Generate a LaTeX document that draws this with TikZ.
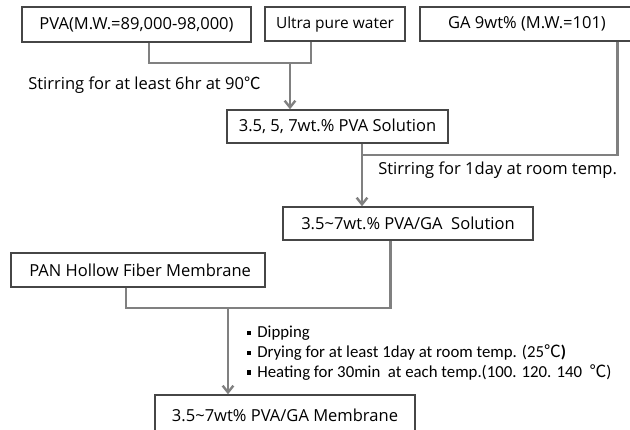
\documentclass[tikz,border=0pt]{standalone}
\usepackage{fontspec}
\setmainfont{Open Sans}
\newfontfamily\cjk{Noto Sans CJK KR}
\newfontfamily\bulletfont{Carlito}
\usepackage{xcolor}
\usepackage{tikz}
\usetikzlibrary{arrows.meta,calc,positioning}

\definecolor{boxgray}{RGB}{70,70,70}
\definecolor{linegray}{RGB}{128,128,128}
\newcommand{\degc}{{\cjk ℃}}
\newcommand{\sqbul}{\raisebox{0.3ex}{\rule{0.25em}{0.25em}}\hspace{0.35em}}

\begin{document}
\begin{tikzpicture}[x=0.75pt,y=-0.75pt,>={Straight Barb[length=5pt,width=8pt]},
    step box/.style={rectangle,draw=boxgray,line width=1.1pt,inner sep=0pt,font=\fontsize{12.4}{14}\selectfont},
    flow/.style={draw=linegray,line width=1.8pt},
    note/.style={anchor=west,inner sep=0pt,font=\fontsize{12.4}{14}\selectfont}]
    \useasboundingbox (0,0) rectangle (630,429);
    \clip (0,0) rectangle (630,429);

    \node[step box,minimum width=229*0.75pt,minimum height=35*0.75pt] (pva) at (136.5,24.5) {PVA(M.W.=89,000-98,000)};
    \node[step box,minimum width=140*0.75pt,minimum height=34*0.75pt,font=\fontsize{11.6}{14}\selectfont] (water) at (335,24) {Ultra pure water};
    \node[step box,minimum width=214*0.75pt,minimum height=34*0.75pt] (ga) at (527,24) {GA 9wt\% (M.W.=101)};
    \node[step box,minimum width=221*0.75pt,minimum height=33*0.75pt] (sol) at (337.5,126.5) {3.5, 5, 7wt.\% PVA Solution};
    \node[step box,minimum width=250*0.75pt,minimum height=33*0.75pt] (pvaga) at (408,223.5) {3.5\textasciitilde7wt.\% PVA/GA\ \ Solution};
    \node[step box,minimum width=254*0.75pt,minimum height=34*0.75pt] (pan) at (138,270) {\ PAN Hollow Fiber Membrane};
    \node[step box,minimum width=260*0.75pt,minimum height=40*0.75pt] (mem) at (285,415) {3.5\textasciitilde7wt\%\ PVA/GA Membrane};

    % junction points
    \coordinate (j1) at (290,63);
    \coordinate (j2) at (362,155);
    \coordinate (j3) at (228,308);

    \path[flow] ([xshift=9.5]pva.south) |- (j1) -| ([xshift=-18]water.south);
    \path[flow,->] (j1) -- (sol.north -| j1);
    \path[flow] ([xshift=68]ga.south) |- (j2);
    \path[flow] (sol.south -| j2) -- (j2);
    \path[flow,->] (j2) -- (pvaga.north -| j2);
    \path[flow] ([xshift=-9]pan.south) |- (j3) -| ([xshift=-13]pvaga.south);
    \path[flow,->] (j3) -- (mem.north -| j3);

    \node[note] (stir1) at (28,85) {Stirring for at least 6hr at 90\degc};
    \node[note] (stir2) at (378,170) {Stirring for 1day at room temp.};
    \node[note,align=left,font=\bulletfont\fontsize{12.6}{14.8}\selectfont] (steps) at (247,353)
        {\sqbul Dipping\\ \sqbul Drying for at least 1day at room temp. (25\degc\textbf{)}\\ \sqbul Heating for 30min\ \ at each temp.(100. 120. 140\ \ \degc)};
\end{tikzpicture}
\end{document}
